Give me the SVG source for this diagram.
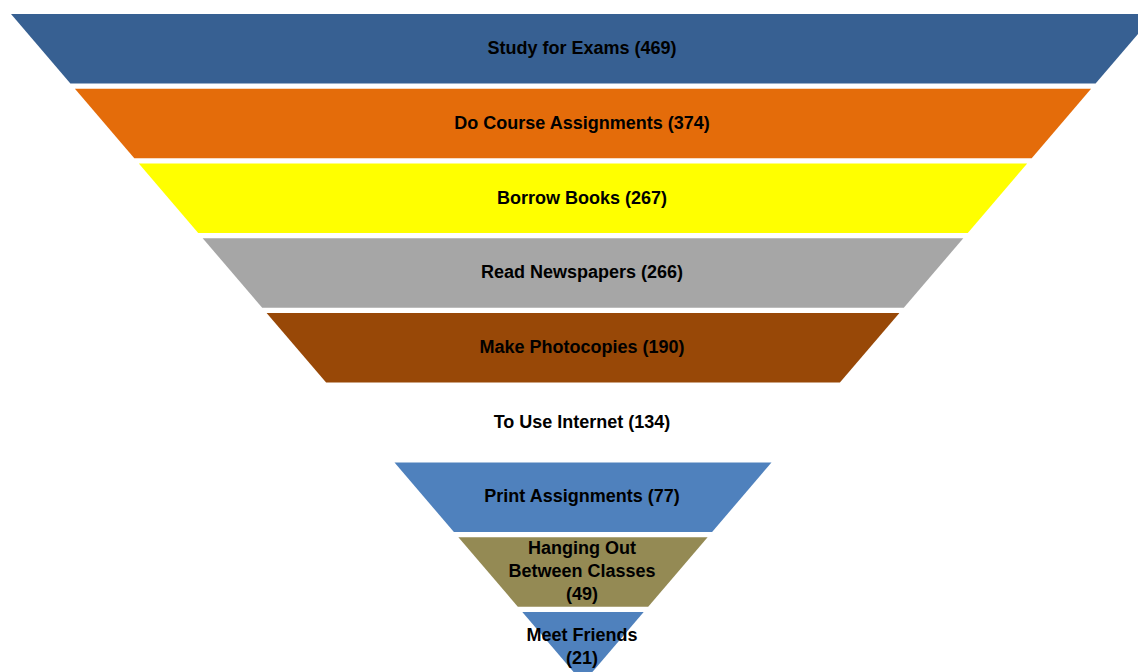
<svg xmlns="http://www.w3.org/2000/svg" width="1138" height="672" viewBox="0 0 1138 672">
<style>
.lbl{font-family:"Liberation Sans",Arial,sans-serif;font-weight:bold;font-size:18px;fill:#000;text-anchor:middle;dominant-baseline:central}
</style>
<rect width="1138" height="672" fill="#fff"/>
<g id="band-exams"><polygon points="11,14 1155,14 1095.6,83.5 70.4,83.5" fill="#376092"/><text class="lbl" x="582" y="48">Study for Exams (469)</text></g>
<g id="band-assignments"><polygon points="74.9,88.75 1091.1,88.75 1031.7,158.25 134.3,158.25" fill="#E46C0A"/><text class="lbl" x="582" y="123">Do Course Assignments (374)</text></g>
<g id="band-books"><polygon points="138.8,163.5 1027.2,163.5 967.8,233 198.2,233" fill="#FFFF00"/><text class="lbl" x="582" y="198">Borrow Books (267)</text></g>
<g id="band-newspapers"><polygon points="202.7,238.25 963.3,238.25 903.8,307.75 262.2,307.75" fill="#A6A6A6"/><text class="lbl" x="582" y="272">Read Newspapers (266)</text></g>
<g id="band-photocopies"><polygon points="266.6,313 899.4,313 839.9,382.5 326.1,382.5" fill="#984807"/><text class="lbl" x="582" y="347">Make Photocopies (190)</text></g>
<g id="band-internet"><polygon points="330.6,387.75 835.4,387.75 776,457.25 390,457.25" fill="#FFFFFF"/><text class="lbl" x="582" y="422">To Use Internet (134)</text></g>
<g id="band-print"><polygon points="394.5,462.5 771.5,462.5 712.1,532 453.9,532" fill="#4F81BD"/><text class="lbl" x="582" y="496">Print Assignments (77)</text></g>
<g id="band-hanging"><polygon points="458.4,537.25 707.6,537.25 648.2,606.75 517.8,606.75" fill="#948A54"/><text class="lbl" x="582" y="548">Hanging Out</text><text class="lbl" x="582" y="571">Between Classes</text><text class="lbl" x="582" y="594">(49)</text></g>
<g id="band-friends"><polygon points="522.3,612 643.7,612 583,683" fill="#4F81BD"/><text class="lbl" x="582" y="635">Meet Friends</text><text class="lbl" x="582" y="658">(21)</text></g>
<g id="connectors"></g>
</svg>
